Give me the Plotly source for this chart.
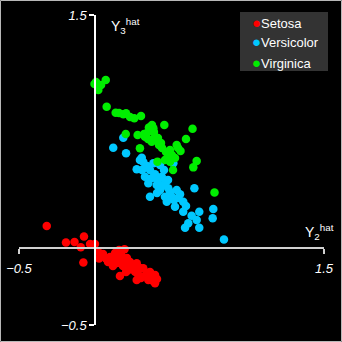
import plotly.graph_objects as go

# ---- data ----
setosa_x = [-0.318, -0.192, -0.136, -0.074, -0.095, -0.034, -0.002, -0.078, 0.020, 0.025,
            0.070, 0.130, 0.192, 0.169, 0.143, 0.195, 0.272, 0.217, 0.162, 0.261,
            0.315, 0.272, 0.337, 0.392, 0.348, 0.392, 0.097, 0.110, 0.149, 0.175,
            0.228, 0.241, 0.293, 0.359, 0.372, 0.326, 0.208, 0.156, 0.051, 0.084,
            0.116, 0.202, 0.280, 0.300, 0.379, 0.359, 0.136, 0.182, 0.254, 0.405]
setosa_y = [0.139, 0.032, 0.035, 0.071, 0.001, 0.023, 0.023, -0.097, -0.029, -0.071,
            -0.071, -0.035, -0.012, -0.044, -0.100, -0.113, -0.102, -0.145, -0.184, -0.156,
            -0.134, -0.210, -0.166, -0.177, -0.210, -0.231, -0.061, -0.094, -0.068, -0.081,
            -0.094, -0.119, -0.132, -0.158, -0.197, -0.184, -0.068, -0.016, -0.042, -0.094,
            -0.119, -0.158, -0.171, -0.197, -0.216, -0.184, -0.055, -0.119, -0.132, -0.203]

versicolor_x = [0.118, 0.184, 0.202, 0.305, 0.315, 0.272, 0.381, 0.512, 0.326, 0.392,
                0.436, 0.348, 0.403, 0.457, 0.359, 0.425, 0.479, 0.534, 0.556, 0.650,
                0.457, 0.501, 0.469, 0.523, 0.577, 0.577, 0.632, 0.682, 0.774, 0.770,
                0.665, 0.610, 0.589, 0.682, 0.844, 0.307, 0.359, 0.411, 0.372, 0.438,
                0.490, 0.339, 0.451, 0.405, 0.516, 0.543, 0.425, 0.477, 0.595, 0.293]
versicolor_y = [0.644, 0.708, 0.608, 0.579, 0.552, 0.505, 0.543, 0.543, 0.457, 0.472,
                0.457, 0.414, 0.403, 0.414, 0.328, 0.371, 0.382, 0.371, 0.343, 0.382,
                0.328, 0.328, 0.295, 0.263, 0.295, 0.231, 0.205, 0.231, 0.248, 0.188,
                0.177, 0.156, 0.128, 0.128, 0.052, 0.500, 0.500, 0.435, 0.448, 0.397,
                0.358, 0.526, 0.500, 0.352, 0.306, 0.319, 0.532, 0.435, 0.268, 0.565]

virginica_x = [-0.005, 0.020, 0.069, 0.038, 0.075, 0.134, 0.184, 0.202, 0.256, 0.300,
               0.453, 0.638, 0.200, 0.278, 0.326, 0.381, 0.392, 0.370, 0.418, 0.293,
               0.490, 0.534, 0.595, 0.559, 0.479, 0.408, 0.490, 0.510, 0.665, 0.643,
               0.782, 0.337, 0.359, 0.385, 0.398, 0.346, 0.438, 0.503, 0.464, 0.320,
               0.411, 0.372, 0.523, 0.005, 0.156, 0.228, 0.431, 0.543, 0.457, 0.352]
virginica_y = [1.055, 1.016, 1.081, 1.048, 0.908, 0.870, 0.859, 0.866, 0.834, 0.848,
               0.790, 0.766, 0.732, 0.726, 0.715, 0.769, 0.715, 0.683, 0.661, 0.640,
               0.629, 0.661, 0.700, 0.623, 0.584, 0.554, 0.554, 0.500, 0.558, 0.517,
               0.355, 0.737, 0.752, 0.745, 0.694, 0.700, 0.642, 0.597, 0.616, 0.732,
               0.706, 0.790, 0.577, 1.068, 0.868, 0.842, 0.674, 0.642, 0.565, 0.774]

species = ["Setosa", "Versicolor", "Virginica"]
colors = ["#ff0000", "#00c8ff", "#00ee00"]
axis_ticks = [-0.5, 1.5]
x_title = "Y<sub>2</sub><sup>hat</sup>"
y_title = "Y<sub>3</sub><sup>hat</sup>"

W, H = 342, 342
ML, MR, MT, MB = 19, 18, 15, 17
PW, PH = W - ML - MR, H - MT - MB

fig = go.Figure()
for name, xs, ys, c in zip(species,
                           [setosa_x, versicolor_x, virginica_x],
                           [setosa_y, versicolor_y, virginica_y],
                           colors):
    fig.add_trace(go.Scatter(x=xs, y=ys, mode="markers", name=name,
                             marker=dict(color=c, size=8.5, line=dict(width=0)),
                             cliponaxis=False))

tickfont = dict(family="Liberation Sans, Arial, sans-serif", size=13, color="white", style="italic")
fig.update_xaxes(range=axis_ticks, showgrid=False, zeroline=False, showline=True,
                 linecolor="#d0d0d0", linewidth=2, ticks="outside", ticklen=5,
                 tickcolor="#d0d0d0", tickwidth=2, tickvals=axis_ticks,
                 tickfont=tickfont, anchor="free", position=0.25, automargin=False,
                 ticklabelstandoff=4)
fig.update_yaxes(range=axis_ticks, showgrid=False, zeroline=False, showline=True,
                 linecolor="#ffffff", linewidth=2, ticks="outside", ticklen=5,
                 tickcolor="#ffffff", tickwidth=2, tickvals=axis_ticks,
                 tickfont=tickfont, anchor="free", position=0.25, automargin=False)

def px_x(p):
    return (p - ML) / PW

def px_y(p):
    return (H - MB - p) / PH

titlefont = dict(family="Liberation Sans, Arial, sans-serif", size=14, color="white")
annotations = [
    dict(text=y_title, xref="paper", yref="paper", x=px_x(109), y=px_y(14),
         xanchor="left", yanchor="top", showarrow=False, font=titlefont),
    dict(text=x_title, xref="paper", yref="paper", x=px_x(303), y=px_y(220),
         xanchor="left", yanchor="top", showarrow=False, font=titlefont),
]

# legend box (custom)
shapes = [
    dict(type="rect", xref="paper", yref="paper", x0=px_x(240), x1=px_x(328),
         y0=px_y(71), y1=px_y(12), fillcolor="#333333", line=dict(width=0), layer="below"),
    dict(type="rect", xref="paper", yref="paper", x0=px_x(0.5), x1=px_x(341.5),
         y0=px_y(341.5), y1=px_y(0.5), line=dict(color="#b8b8b8", width=1)),
]
legfont = dict(family="Liberation Sans, Arial, sans-serif", size=13, color="white")
for i, (name, c) in enumerate(zip(species, colors)):
    annotations.append(dict(
        text=f'<span style="color:{c};font-size:15px">●</span>{name}',
        xref="paper", yref="paper", x=px_x(250), y=px_y(22 + 20 * i),
        xanchor="left", yanchor="middle", showarrow=False, font=legfont))

fig.update_layout(width=W, height=H, margin=dict(l=ML, r=MR, t=MT, b=MB),
                  paper_bgcolor="black", plot_bgcolor="black", showlegend=False,
                  annotations=annotations, shapes=shapes)

fig.write_html("out.html", config={"displayModeBar": False},
               post_script="document.body.style.margin='0';document.body.style.overflow='hidden';")
